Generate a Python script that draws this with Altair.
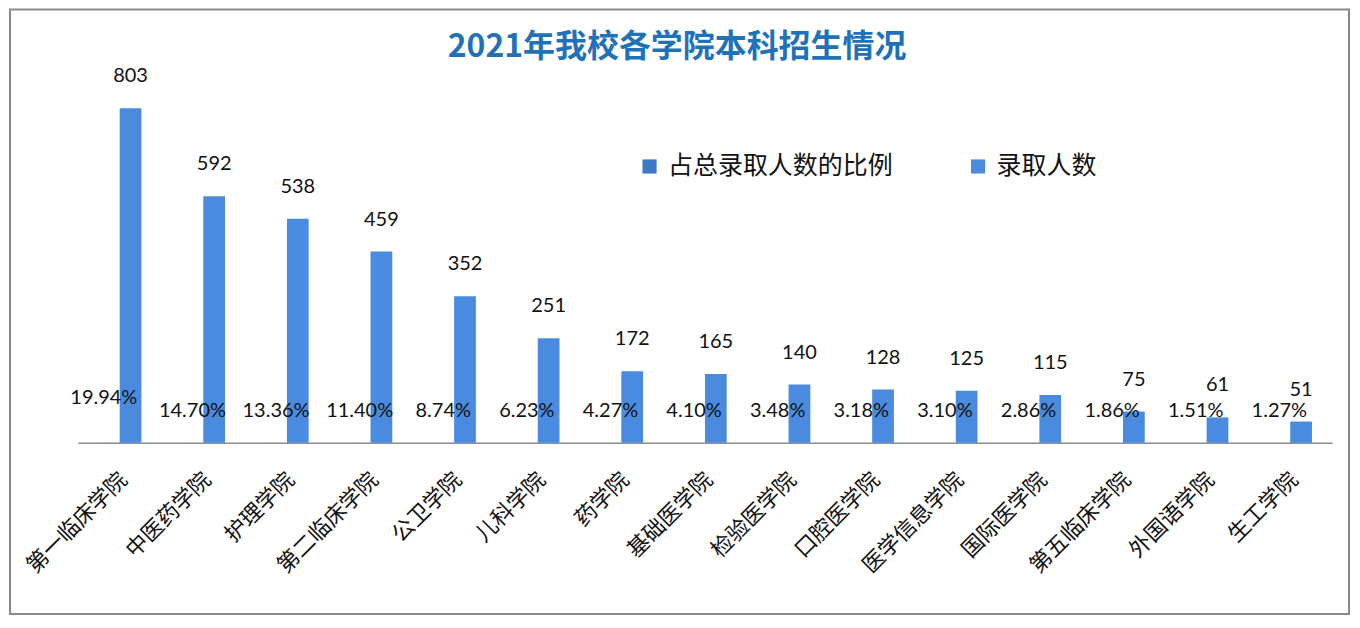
import altair as alt
import pandas as pd

categories = ["第一临床学院", "中医药学院", "护理学院", "第二临床学院", "公卫学院", "儿科学院",
              "药学院", "基础医学院", "检验医学院", "口腔医学院", "医学信息学院", "国际医学院",
              "第五临床学院", "外国语学院", "生工学院"]
counts = [803, 592, 538, 459, 352, 251, 172, 165, 140, 128, 125, 115, 75, 61, 51]
pcts = [19.94, 14.70, 13.36, 11.40, 8.74, 6.23, 4.27, 4.10, 3.48, 3.18, 3.10, 2.86, 1.86, 1.51, 1.27]
series = ["占总录取人数的比例", "录取人数"]
colors = ["#3B78C6", "#4A8BDF"]
title = "2021年我校各学院本科招生情况"

rows = []
for c, n, p in zip(categories, counts, pcts):
    rows.append({"category": c, "series": series[0], "value": p / 100, "label": f"{p:.2f}%"})
    rows.append({"category": c, "series": series[1], "value": n, "label": str(n)})
df = pd.DataFrame(rows)

x = alt.X("category:N", sort=categories, title=None,
          scale=alt.Scale(paddingInner=0.48, paddingOuter=0.24),
          axis=alt.Axis(labelAngle=-45, labelAlign="right", labelBaseline="middle",
                        labelFont="Noto Sans CJK SC", labelFontSize=22, labelColor="#111111",
                        labelPadding=33, labelOffset=4, ticks=False,
                        domainColor="#8C8C8C", domainWidth=1.5, labelLimit=300))
xo = alt.XOffset("series:N", sort=series)
y = alt.Y("value:Q", scale=alt.Scale(domain=[0, 900]), axis=None)

base = alt.Chart(df)

bars = base.mark_bar().encode(
    x=x, xOffset=xo, y=y,
    color=alt.Color("series:N", sort=series,
                    scale=alt.Scale(domain=series, range=colors),
                    legend=alt.Legend(title=None, orient="none", direction="horizontal",
                                      legendX=560, legendY=86,
                                      symbolType="square", symbolSize=200,
                                      symbolStrokeWidth=0, labelFont="Noto Sans CJK SC",
                                      labelFontSize=25, labelColor="#111111",
                                      labelLimit=400, labelOffset=6, columnPadding=72)),
)

txt_main = base.transform_filter(
    "!(datum.series == '占总录取人数的比例' && datum.category == '第一临床学院')"
).mark_text(dy=-32, baseline="middle", font="Lato", fontSize=20, color="#111111").encode(
    x=x, xOffset=xo, y=y, text="label:N")

txt_first = base.transform_filter(
    "datum.series == '占总录取人数的比例' && datum.category == '第一临床学院'"
).mark_text(dy=-45, dx=-5, baseline="middle", font="Lato", fontSize=20, color="#111111").encode(
    x=x, xOffset=xo, y=y, text="label:N")

one = pd.DataFrame({"t": [title]})

frame = alt.Chart(one).mark_rect(
    fill=None, stroke="#8A8A8A", strokeWidth=2, clip=False
).encode(x=alt.value(-68), x2=alt.value(1273), y=alt.value(-58.5), y2=alt.value(547))

title_mark = alt.Chart(one).mark_text(
    font="Noto Sans CJK SC", fontSize=32, fontWeight="bold", color="#1F72B8",
    align="center", baseline="middle", clip=False
).encode(x=alt.value(600), y=alt.value(-20.5), text="t:N")

chart = alt.layer(frame, bars, txt_main, txt_first, title_mark).properties(
    width=1256, height=375.5,
    autosize=alt.AutoSizeParams(type="none"),
    padding={"left": 70, "top": 59.5, "right": 20, "bottom": 178},
    background="white",
).configure_view(stroke=None)

chart.save("out.html", embed_options={"renderer": "svg", "actions": False})
